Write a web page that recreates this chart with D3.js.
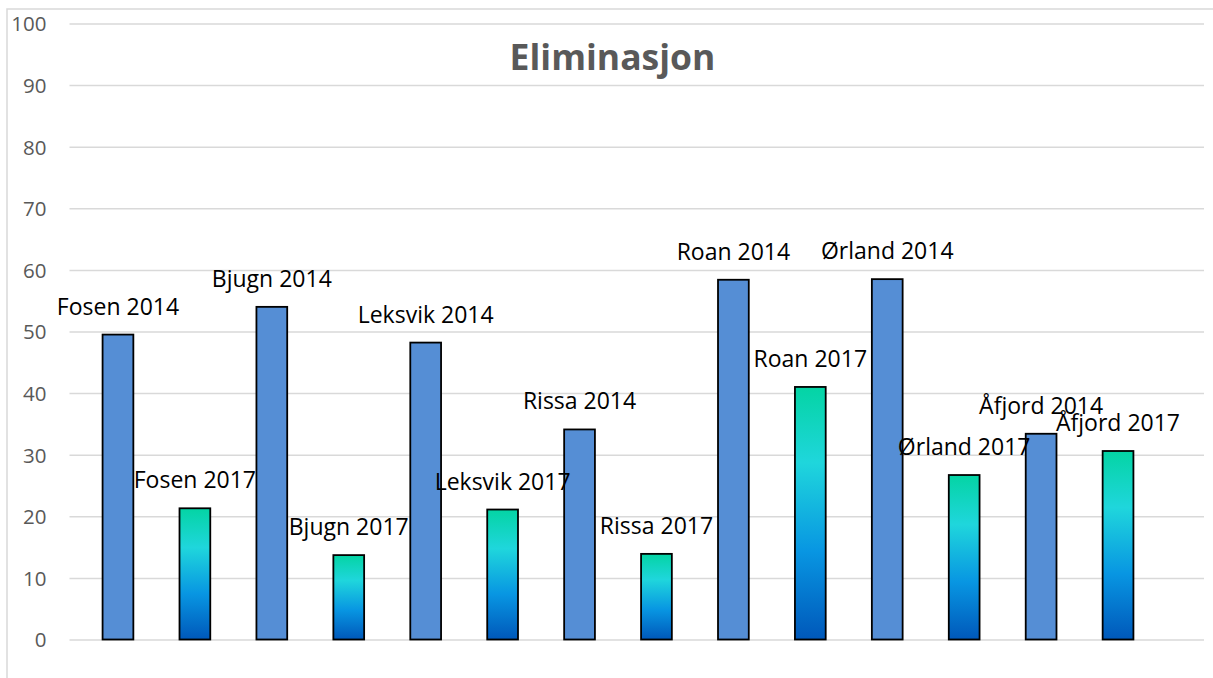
<!DOCTYPE html>
<html>
<head>
<meta charset="utf-8">
<script src="https://cdn.jsdelivr.net/npm/d3@7"></script>
<style>
  html, body { margin: 0; padding: 0; background: #fff; }
  svg { display: block; }
</style>
</head>
<body>
<svg id="chart" width="1213" height="678"></svg>
<script>
const title = "Eliminasjon";
const categories = ["Fosen 2014","Fosen 2017","Bjugn 2014","Bjugn 2017","Leksvik 2014","Leksvik 2017","Rissa 2014","Rissa 2017","Roan 2014","Roan 2017","Ørland 2014","Ørland 2017","Åfjord 2014","Åfjord 2017"];
const years = ["2014","2017","2014","2017","2014","2017","2014","2017","2014","2017","2014","2017","2014","2017"];
const values = [49.5,21.3,54.0,13.7,48.2,21.1,34.1,13.9,58.4,41.0,58.5,26.7,33.4,30.6];
const yTicks = [0,10,20,30,40,50,60,70,80,90,100];

const svg = d3.select("#chart");
const W = 1213, H = 678;

// chart area border
svg.append("rect").attr("x", 7).attr("y", 9).attr("width", W + 20).attr("height", H + 20)
  .attr("fill", "#fff").attr("stroke", "#d9d9d9").attr("stroke-width", 1.5);

const defs = svg.append("defs");
const grad = defs.append("linearGradient").attr("id", "g2017")
  .attr("x1", 0).attr("y1", 0).attr("x2", 0).attr("y2", 1);
[[0, "#04d4a4"], [0.3, "#1fd6dc"], [0.65, "#0896e2"], [1, "#0058ba"]].forEach(([o, c]) =>
  grad.append("stop").attr("offset", o).attr("stop-color", c));

const y = d3.scaleLinear().domain([0, 100]).range([639.5, 23.5]);
const x = d3.scaleBand().domain(categories).range([79.5, 1156.5]).paddingInner(0.6).paddingOuter(0.3);

const gridX0 = 69.5, gridX1 = 1204;

// gridlines + tick labels via axis
const yAxis = d3.axisLeft(y).tickValues(yTicks).tickSize(-(gridX1 - gridX0)).tickPadding(23).tickFormat(d3.format("d"));
const ga = svg.append("g").attr("transform", `translate(${gridX0},0)`).call(yAxis);
ga.select(".domain").remove();
ga.selectAll(".tick line").attr("stroke", "#d9d9d9").attr("stroke-width", 1.5);
ga.selectAll(".tick text").attr("fill", "#595959").attr("font-family", "'Open Sans', sans-serif")
  .attr("font-size", 20.5).attr("dy", "0.36em");

// bars
svg.append("g").selectAll("rect").data(categories).join("rect")
  .attr("x", d => x(d))
  .attr("y", (d, i) => y(values[i]))
  .attr("width", x.bandwidth())
  .attr("height", (d, i) => y(0) - y(values[i]))
  .attr("fill", (d, i) => years[i] === "2014" ? "#558ed5" : "url(#g2017)")
  .attr("stroke", "#000").attr("stroke-width", 1.8);

// data labels
svg.append("g").selectAll("text").data(categories).join("text")
  .attr("x", d => x(d) + x.bandwidth() / 2)
  .attr("y", (d, i) => y(values[i]) - 20)
  .attr("text-anchor", "middle")
  .attr("font-family", "'Open Sans', sans-serif")
  .attr("font-size", 23)
  .attr("fill", "#000")
  .text(d => d);

// title
svg.append("text").attr("x", 612.5).attr("y", 70).attr("text-anchor", "middle")
  .attr("font-family", "'Open Sans', sans-serif").attr("font-weight", "bold")
  .attr("font-size", 35.5).attr("fill", "#595959").text(title);
</script>
</body>
</html>
